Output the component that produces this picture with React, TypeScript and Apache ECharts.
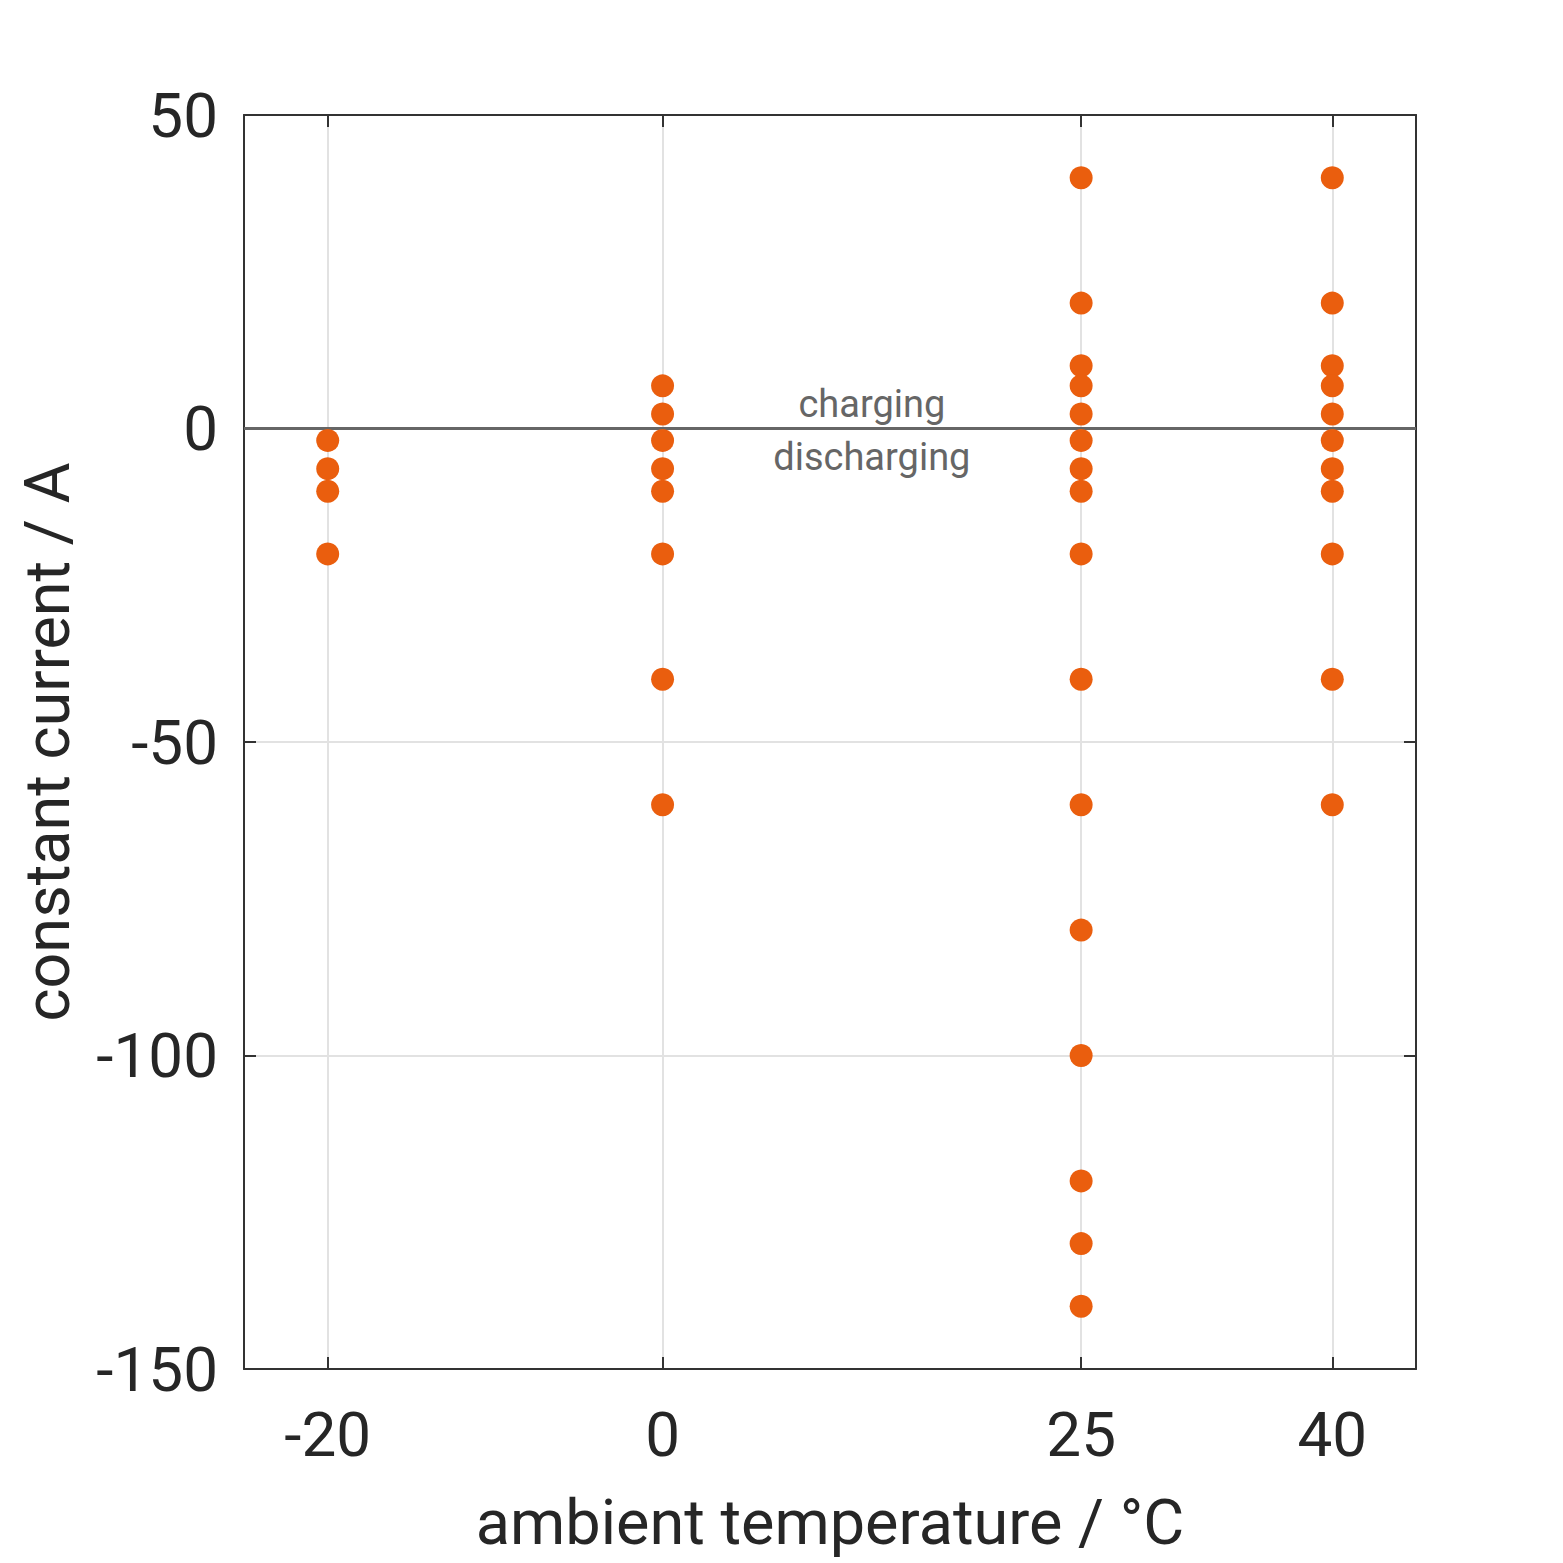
import React, { useEffect, useRef } from "react";
import * as echarts from "echarts";

const temperatures = [-20, 0, 25, 40];
const currentsM20 = [-1.9, -6.4, -10, -20];
const currents0 = [6.8, 2.3, -1.9, -6.4, -10, -20, -40, -60];
const currents25 = [40, 20, 10, 6.8, 2.3, -1.9, -6.4, -10, -20, -40, -60, -80, -100, -120, -130, -140];
const currents40 = [40, 20, 10, 6.8, 2.3, -1.9, -6.4, -10, -20, -40, -60];
const xTicks = [-20, 0, 25, 40];
const chargeLabels = ["charging", "discharging"];
const labelTemperature = 12.5;

const FONT = "Roboto";

export default function App() {
  const ref = useRef<HTMLDivElement>(null);
  useEffect(() => {
    document.body.style.margin = "0";
    const chart = echarts.init(ref.current!, null, { renderer: "svg" });
    const groups = [currentsM20, currents0, currents25, currents40];
    const points: number[][] = [];
    groups.forEach((g, i) => g.forEach((v) => points.push([temperatures[i], v])));

    const axisLine = { show: true, onZero: false, lineStyle: { color: "#333", width: 2 } };
    const tick = { show: true, inside: true, length: 12, lineStyle: { color: "#333", width: 2 } };
    const split = { show: true, lineStyle: { color: "#e2e2e2", width: 2 } };
    const xCommon = {
      type: "value" as const,
      min: -25,
      max: 45,
      axisLine,
      axisTick: { ...tick, customValues: xTicks },
      splitLine: { show: false },
    };
    const yCommon = {
      type: "value" as const,
      min: -150,
      max: 50,
      interval: 50,
      axisLine,
      axisTick: tick,
    };

    chart.setOption({
      animation: false,
      backgroundColor: "#fff",
      grid: { left: 244, right: 147, top: 115, bottom: 194, containLabel: false },
      xAxis: [
        {
          ...xCommon,
          position: "bottom",
          splitLine: { ...split, customValues: xTicks } as any,
          axisLabel: {
            show: true,
            customValues: xTicks,
            fontFamily: FONT,
            fontSize: 62,
            color: "#262626",
            margin: 34,
          },
          name: "ambient temperature / °C",
          nameLocation: "middle",
          nameGap: 122,
          nameTextStyle: { fontFamily: FONT, fontSize: 63, color: "#262626" },
        },
        {
          ...xCommon,
          position: "top",
          axisLabel: { show: false },
        },
      ],
      yAxis: [
        {
          ...yCommon,
          position: "left",
          splitLine: split,
          axisLabel: {
            fontFamily: FONT,
            fontSize: 62,
            color: "#262626",
            margin: 26,
          },
          name: "constant current / A",
          nameLocation: "middle",
          nameGap: 165,
          nameTextStyle: { fontFamily: FONT, fontSize: 63, color: "#262626" },
        },
        {
          ...yCommon,
          position: "right",
          splitLine: { show: false },
          axisLabel: { show: false },
        },
      ],
      series: [
        {
          type: "scatter",
          data: points,
          symbol: "circle",
          symbolSize: 23,
          itemStyle: { color: "#EA5E0E", opacity: 1 },
          z: 5,
          markLine: {
            silent: true,
            symbol: "none",
            label: { show: false },
            lineStyle: { color: "#666", width: 3, type: "solid" },
            data: [{ yAxis: 0 }],
            z: 3,
          },
          markPoint: {
            silent: true,
            symbol: "circle",
            symbolSize: 1,
            itemStyle: { color: "rgba(0,0,0,0)" },
            data: [
              {
                coord: [labelTemperature, 0],
                label: {
                  show: true,
                  formatter: chargeLabels[0],
                  position: "top",
                  distance: 5,
                  fontFamily: FONT,
                  fontSize: 38,
                  color: "#666",
                },
              },
              {
                coord: [labelTemperature, 0],
                label: {
                  show: true,
                  formatter: chargeLabels[1],
                  position: "bottom",
                  distance: 9,
                  fontFamily: FONT,
                  fontSize: 38,
                  color: "#666",
                },
              },
            ],
          },
        },
      ],
    });
    return () => chart.dispose();
  }, []);
  return <div ref={ref} style={{ width: 1563, height: 1563 }} />;
}
